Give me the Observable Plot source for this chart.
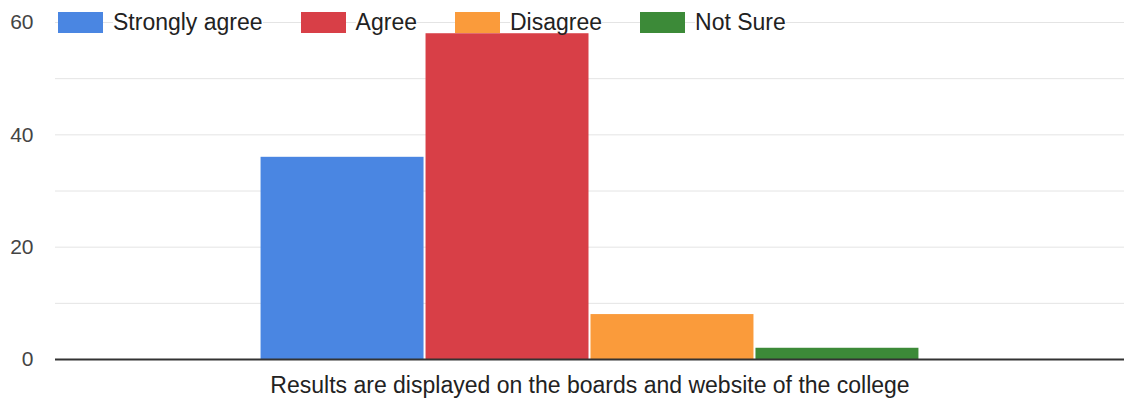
<!DOCTYPE html>
<html>
<head>
<meta charset="utf-8">
<script src="https://cdn.jsdelivr.net/npm/d3@7"></script>
<script src="https://cdn.jsdelivr.net/npm/@observablehq/plot@0.6"></script>
<style>
  html, body { margin: 0; padding: 0; background: #fff; }
  #wrap { position: relative; width: 1124px; height: 403px; font-family: "Liberation Sans", Arial, sans-serif; }
  #legend { position: absolute; left: 58px; top: 12px; display: flex; align-items: center; font-size: 23px; color: #222; }
  .item { display: flex; align-items: center; margin-right: 38px; }
  .sw { width: 45px; height: 21px; margin-right: 10px; }
  .item span { background: #fff; line-height: 21px; }
</style>
</head>
<body>
<div id="wrap"></div>
<script>
const group = "Results are displayed on the boards and website of the college";
const categories = ["Strongly agree", "Agree", "Disagree", "Not Sure"];
const values = [36, 58, 8, 2];
const colors = ["#4a86e2", "#d83f47", "#fa9b3b", "#3c8a38"];
const yTicks = [0, 20, 40, 60];
const gridTicks = [10, 20, 30, 40, 50, 60];

const data = categories.map((c, i) => ({group, category: c, value: values[i]}));

const chart = Plot.plot({
  width: 1124,
  height: 403,
  marginTop: 22,
  marginBottom: 44,
  marginLeft: 55,
  marginRight: 0,
  style: {fontFamily: "Liberation Sans, Arial, sans-serif", background: "#fff"},
  fx: {domain: [group], padding: 0, label: null, round: false},
  x: {domain: categories, paddingInner: 0, paddingOuter: 1.24, round: false, axis: null},
  y: {domain: [0, 60], label: null},
  color: {domain: categories, range: colors},
  marks: [
    Plot.ruleY(gridTicks, {stroke: "#e4e4e4", strokeWidth: 1}),
    Plot.axisY(yTicks, {tickSize: 0, tickPadding: 22, fontSize: 21, fill: "#444", label: null}),
    Plot.barY(data, {fx: "group", x: "category", y: "value", fill: "category", insetLeft: 1, insetRight: 1}),
    Plot.ruleY([0], {stroke: "#333", strokeWidth: 2}),
    Plot.axisFx({anchor: "bottom", tickSize: 0, tickPadding: 17, fontSize: 23, fill: "#222", label: null})
  ]
});

const wrap = document.getElementById("wrap");
wrap.appendChild(chart);

const legend = document.createElement("div");
legend.id = "legend";
categories.forEach((c, i) => {
  const item = document.createElement("div");
  item.className = "item";
  const sw = document.createElement("div");
  sw.className = "sw";
  sw.style.background = colors[i];
  const t = document.createElement("span");
  t.textContent = c;
  item.appendChild(sw);
  item.appendChild(t);
  legend.appendChild(item);
});
wrap.appendChild(legend);
</script>
</body>
</html>
